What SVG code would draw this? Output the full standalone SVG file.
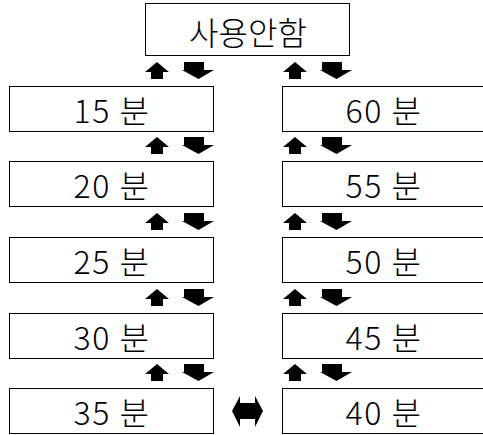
<svg xmlns="http://www.w3.org/2000/svg" width="483" height="435" viewBox="0 0 483 435">
<style>
.box{fill:#fff;stroke:#000;stroke-width:1}
.t{font-family:"Noto Sans CJK KR","Liberation Sans",sans-serif;font-weight:300;font-size:32px;fill:#000;text-anchor:middle;letter-spacing:1.5px}
.a{fill:#000}
</style>
<defs>
<path id="up" d="M12,0 L24,10 L18,10 L18,17 L6,17 L6,10 L0,10 Z"/>
<path id="dn" d="M2,0 H22 V8 H32 L16.5,17 L0,8 H2 Z"/>
<g id="pair"><use href="#up" x="0" y="0"/><use href="#dn" x="37" y="0"/></g>
</defs>
<rect width="483" height="435" fill="#fff"/>
<g id="off"><rect class="box" x="145.5" y="3.5" width="204" height="52"/><text class="t" x="248" y="45" style="letter-spacing:0">사용안함</text></g>
<g id="m15"><rect class="box" x="9.5" y="86.5" width="204" height="45"/><text class="t" x="112" y="123">15 분</text></g>
<g id="m20"><rect class="box" x="9.5" y="161.5" width="204" height="45"/><text class="t" x="112" y="198">20 분</text></g>
<g id="m25"><rect class="box" x="9.5" y="237.5" width="204" height="45"/><text class="t" x="112" y="274">25 분</text></g>
<g id="m30"><rect class="box" x="9.5" y="313.5" width="204" height="45"/><text class="t" x="112" y="350">30 분</text></g>
<g id="m35"><rect class="box" x="9.5" y="388.5" width="204" height="45"/><text class="t" x="112" y="425">35 분</text></g>
<g id="m60"><rect class="box" x="282.5" y="86.5" width="204" height="45"/><text class="t" x="384" y="123">60 분</text></g>
<g id="m55"><rect class="box" x="282.5" y="161.5" width="204" height="45"/><text class="t" x="384" y="198">55 분</text></g>
<g id="m50"><rect class="box" x="282.5" y="237.5" width="204" height="45"/><text class="t" x="384" y="274">50 분</text></g>
<g id="m45"><rect class="box" x="282.5" y="313.5" width="204" height="45"/><text class="t" x="384" y="350">45 분</text></g>
<g id="m40"><rect class="box" x="282.5" y="388.5" width="204" height="45"/><text class="t" x="384" y="425">40 분</text></g>
<g id="connectors" class="a">
<use href="#pair" x="145" y="62"/><use href="#pair" x="283" y="62"/>
<use href="#pair" x="145" y="137"/><use href="#pair" x="283" y="137"/>
<use href="#pair" x="145" y="213"/><use href="#pair" x="283" y="213"/>
<use href="#pair" x="145" y="289"/><use href="#pair" x="283" y="289"/>
<use href="#pair" x="145" y="364"/><use href="#pair" x="283" y="364"/>
<path d="M232,411 L240,396 V403 H255 V396 L263,411 L255,427 V419 H240 V427 Z"/>
</g>
</svg>
